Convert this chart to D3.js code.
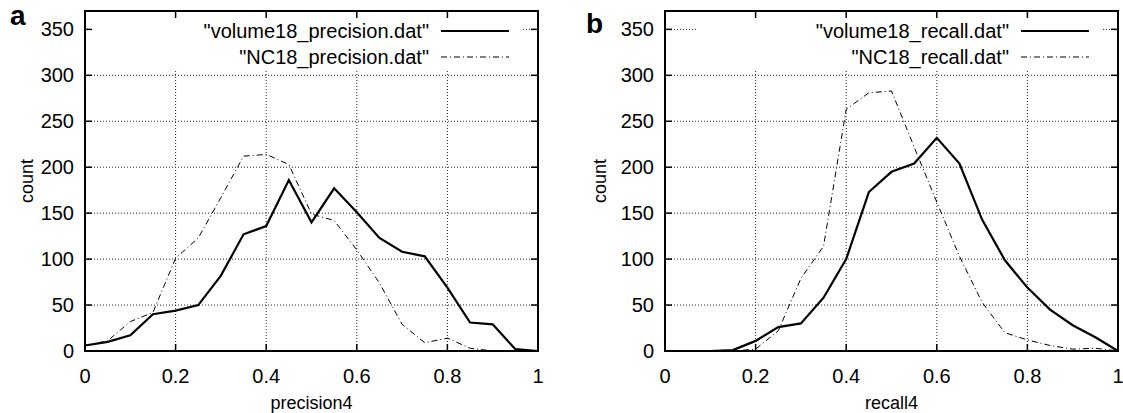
<!DOCTYPE html>
<html lang="en">

<head>
  <meta charset="utf-8">
  <script src="https://d3js.org/d3.v7.min.js"></script>
  <style>
    body { margin: 0; background: #fff; }
    text { font-family: "Liberation Sans", Arial, sans-serif; fill: #000; }
  </style>
</head>

<body>
  <svg width="1123" height="413"></svg>
  <script>
    // bin centres shared by all four series
    const bins = [0, 0.05, 0.1, 0.15, 0.2, 0.25, 0.3, 0.35, 0.4, 0.45, 0.5,
      0.55, 0.6, 0.65, 0.7, 0.75, 0.8, 0.85, 0.9, 0.95, 1];

    const volumePrecision = [6, 10, 17, 40, 44, 50, 82, 127, 136, 186, 140,
      177, 151, 123, 108, 103, 69, 31, 29, 2, 0];
    const ncPrecision = [6, 11, 32, 42, 101, 123, 167, 212, 214, 203, 149,
      142, 110, 74, 29, 9, 14, 3, 0, 0, 0];

    const volumeRecall = [0, 0, 0, 1, 11, 26, 30, 58, 100, 173, 195,
      204, 232, 204, 143, 99, 69, 45, 28, 15, 0];
    const ncRecall = [0, 0, 0, 0, 2, 22, 79, 114, 263, 281, 283,
      222, 162, 103, 53, 20, 12, 6, 2, 3, 0];

    const xTicks = [0, 0.2, 0.4, 0.6, 0.8, 1];
    const yTicks = [0, 50, 100, 150, 200, 250, 300, 350];

    const panels = [
      {
        tag: "a", left: 85, right: 538, xLabel: "precision4", countX: 27,
        keyLeft: 86, keyRight: 523,
        series: [
          { name: "\"volume18_precision.dat\"", values: volumePrecision, solid: true },
          { name: "\"NC18_precision.dat\"", values: ncPrecision, solid: false }
        ]
      },
      {
        tag: "b", left: 665, right: 1118, xLabel: "recall4", countX: 600,
        keyLeft: 697, keyRight: 1102,
        series: [
          { name: "\"volume18_recall.dat\"", values: volumeRecall, solid: true },
          { name: "\"NC18_recall.dat\"", values: ncRecall, solid: false }
        ]
      }
    ];

    const plotTop = 11, plotBottom = 351;
    const svg = d3.select("svg");

    panels.forEach(p => {
      const x = d3.scaleLinear().domain([0, 1]).range([p.left, p.right]);
      const y = d3.scaleLinear().domain([0, 370]).range([plotBottom, plotTop]);
      const g = svg.append("g");

      // dotted grid
      g.selectAll(".gx").data(xTicks.slice(1, -1)).join("line")
        .attr("x1", d => x(d)).attr("x2", d => x(d))
        .attr("y1", plotBottom).attr("y2", plotTop)
        .attr("stroke", "#222").attr("stroke-width", 1)
        .attr("stroke-dasharray", "1,2");
      g.selectAll(".gy").data(yTicks.slice(1)).join("line")
        .attr("x1", p.left).attr("x2", p.right)
        .attr("y1", d => y(d)).attr("y2", d => y(d))
        .attr("stroke", "#222").attr("stroke-width", 1)
        .attr("stroke-dasharray", "1,2");

      // key background hides the grid
      g.append("rect")
        .attr("x", p.keyLeft).attr("y", plotTop + 1)
        .attr("width", p.keyRight - p.keyLeft).attr("height", 57)
        .attr("fill", "#fff");

      // curves
      const line = d3.line()
        .x((d, i) => x(bins[i]))
        .y(d => y(d));
      p.series.forEach(s => {
        g.append("path")
          .datum(s.values)
          .attr("d", line)
          .attr("fill", "none")
          .attr("stroke", "#000")
          .attr("stroke-linejoin", "miter")
          .attr("stroke-width", s.solid ? 2.2 : 1)
          .attr("stroke-dasharray", s.solid ? null : "6,3,1,3");
      });

      // frame
      g.append("rect")
        .attr("x", p.left).attr("y", plotTop)
        .attr("width", p.right - p.left).attr("height", plotBottom - plotTop)
        .attr("fill", "none").attr("stroke", "#000").attr("stroke-width", 2);

      // inward ticks on all four sides
      const tl = 7;
      g.selectAll(".tb").data(xTicks).join("line")
        .attr("x1", d => x(d)).attr("x2", d => x(d))
        .attr("y1", plotBottom).attr("y2", plotBottom - tl)
        .attr("stroke", "#000").attr("stroke-width", 1.5);
      g.selectAll(".tt").data(xTicks).join("line")
        .attr("x1", d => x(d)).attr("x2", d => x(d))
        .attr("y1", plotTop).attr("y2", plotTop + tl)
        .attr("stroke", "#000").attr("stroke-width", 1.5);
      g.selectAll(".tlft").data(yTicks).join("line")
        .attr("x1", p.left).attr("x2", p.left + tl)
        .attr("y1", d => y(d)).attr("y2", d => y(d))
        .attr("stroke", "#000").attr("stroke-width", 1.5);
      g.selectAll(".trt").data(yTicks).join("line")
        .attr("x1", p.right).attr("x2", p.right - tl)
        .attr("y1", d => y(d)).attr("y2", d => y(d))
        .attr("stroke", "#000").attr("stroke-width", 1.5);

      // tick labels
      g.selectAll(".lx").data(xTicks).join("text")
        .attr("x", d => x(d)).attr("y", 383)
        .attr("text-anchor", "middle").attr("font-size", 20)
        .text(d => d3.format("~g")(d));
      g.selectAll(".ly").data(yTicks).join("text")
        .attr("x", p.left - 11).attr("y", d => y(d) + 7)
        .attr("text-anchor", "end").attr("font-size", 20)
        .text(d => d);

      // axis titles
      g.append("text")
        .attr("x", (p.left + p.right) / 2).attr("y", 409)
        .attr("text-anchor", "middle").attr("font-size", 18)
        .text(p.xLabel);
      g.append("text")
        .attr("transform", `translate(${p.countX + 6},${(plotTop + plotBottom) / 2}) rotate(-90)`)
        .attr("text-anchor", "middle").attr("font-size", 18)
        .text("count");

      // panel letter
      g.append("text")
        .attr("x", p.tag === "a" ? 10 : 586).attr("y", p.tag === "a" ? 25 : 33)
        .attr("font-size", 28).attr("font-weight", "bold")
        .text(p.tag);

      // key
      p.series.forEach((s, i) => {
        const ky = 31 + i * 26;
        g.append("text")
          .attr("x", p.right - 109).attr("y", ky + 7)
          .attr("text-anchor", "end").attr("font-size", 20)
          .text(s.name);
        g.append("line")
          .attr("x1", p.right - 97).attr("x2", p.right - 29)
          .attr("y1", ky).attr("y2", ky)
          .attr("stroke", "#000")
          .attr("stroke-width", s.solid ? 2.2 : 1)
          .attr("stroke-dasharray", s.solid ? null : "6,3,1,3");
      });
    });
  </script>
</body>

</html>
